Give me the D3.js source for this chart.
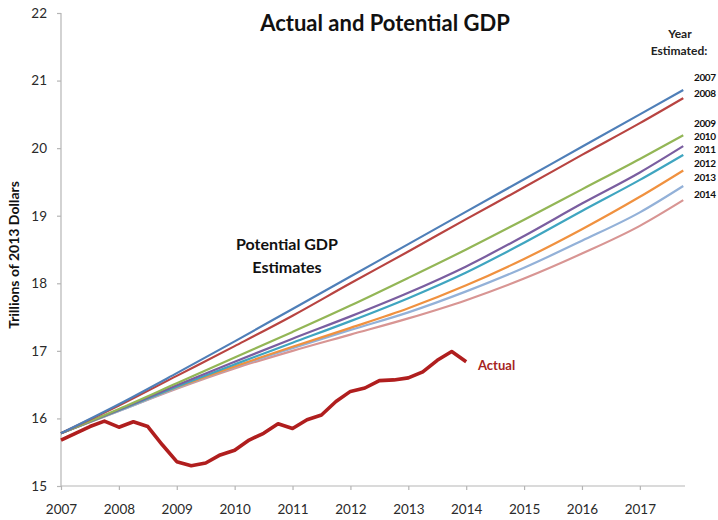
<!DOCTYPE html>
<html>
<head>
<meta charset="utf-8">
<script src="https://cdn.jsdelivr.net/npm/d3@7"></script>
<style>
  html, body { margin: 0; padding: 0; background: #fff; }
  svg { display: block; font-family: Lato, "Open Sans", sans-serif; }
</style>
</head>
<body>
<svg id="chart" width="718" height="520"></svg>
<script>
// ---------- data ----------
const estimateYears = ["2007", "2008", "2009", "2010", "2011", "2012", "2013", "2014"];
const potentialX = [2007, 2008, 2009, 2010, 2011, 2012, 2013, 2014, 2015, 2016, 2017, 2017.75];
const potential2007 = [15.78, 16.21, 16.67, 17.14, 17.62, 18.10, 18.58, 19.06, 19.54, 20.02, 20.50, 20.86];
const potential2008 = [15.78, 16.19, 16.63, 17.07, 17.52, 18.00, 18.47, 18.95, 19.42, 19.90, 20.37, 20.74];
const potential2009 = [15.78, 16.14, 16.52, 16.90, 17.28, 17.67, 18.08, 18.50, 18.94, 19.39, 19.84, 20.19];
const potential2010 = [15.78, 16.13, 16.49, 16.84, 17.18, 17.51, 17.86, 18.25, 18.70, 19.18, 19.64, 20.03];
const potential2011 = [15.78, 16.12, 16.47, 16.80, 17.12, 17.44, 17.78, 18.16, 18.60, 19.07, 19.53, 19.90];
const potential2012 = [15.78, 16.12, 16.46, 16.77, 17.06, 17.34, 17.63, 17.97, 18.36, 18.80, 19.28, 19.67];
const potential2013 = [15.78, 16.11, 16.45, 16.76, 17.04, 17.31, 17.57, 17.88, 18.23, 18.63, 19.05, 19.44];
const potential2014 = [15.78, 16.11, 16.44, 16.74, 17.00, 17.24, 17.48, 17.75, 18.07, 18.44, 18.85, 19.23];
const potentialSeries = [potential2007, potential2008, potential2009, potential2010,
                         potential2011, potential2012, potential2013, potential2014];

const actualX = [2007.00, 2007.25, 2007.50, 2007.75, 2008.00, 2008.25, 2008.50, 2008.75,
                 2009.00, 2009.25, 2009.50, 2009.75, 2010.00, 2010.25, 2010.50, 2010.75,
                 2011.00, 2011.25, 2011.50, 2011.75, 2012.00, 2012.25, 2012.50, 2012.75,
                 2013.00, 2013.25, 2013.50, 2013.75, 2014.00];
const actualValues = [15.68, 15.78, 15.88, 15.96, 15.87, 15.95, 15.88, 15.61,
                      15.36, 15.30, 15.34, 15.46, 15.53, 15.68, 15.78, 15.92,
                      15.85, 15.98, 16.05, 16.25, 16.40, 16.45, 16.56, 16.57,
                      16.60, 16.69, 16.86, 16.99, 16.84];

const xTicks = [2007, 2008, 2009, 2010, 2011, 2012, 2013, 2014, 2015, 2016, 2017];
const yTicks = [15, 16, 17, 18, 19, 20, 21, 22];

// ---------- layout / style ----------
const colors = ["#4f7fb8", "#b84441", "#93b656", "#7a5ea0", "#3fa5c0", "#f0913f", "#93b1d8", "#d89593"];
const legendLabelY = [77, 93, 123, 136, 149, 163, 177, 194];

const svg = d3.select("#chart");
const x = d3.scaleLinear().domain([2007, 2017.78]).range([61, 685]);
const y = d3.scaleLinear().domain([15, 22]).range([486, 13]);

// axes
const xAxis = svg.append("g").attr("transform", "translate(0,486)")
  .call(d3.axisBottom(x).tickValues(xTicks).tickFormat(d3.format("d")).tickSize(4).tickPadding(14));
const yAxis = svg.append("g").attr("transform", "translate(61,0)")
  .call(d3.axisLeft(y).tickValues(yTicks).tickFormat(d3.format("d")).tickSize(4).tickPadding(10));
[xAxis, yAxis].forEach(g => {
  g.select(".domain").attr("stroke", "#b5b5b5").attr("stroke-width", 1.2);
  g.selectAll(".tick line").attr("stroke", "#b5b5b5").attr("stroke-width", 1.2);
  g.selectAll(".tick text").attr("fill", "#2a2a2a").style("font-size", "13.5px")
    .style("font-family", "Lato, 'Open Sans', sans-serif");
});
xAxis.select(".domain").attr("d", "M61,0H685");
yAxis.select(".domain").attr("d", "M0,13V486");

// potential lines
const line = d3.line().x(d => x(d[0])).y(d => y(d[1])).curve(d3.curveMonotoneX);
potentialSeries.slice().reverse().forEach((vals, ri) => {
  const i = potentialSeries.length - 1 - ri;
  svg.append("path")
    .datum(potentialX.map((px, k) => [px, vals[k]]))
    .attr("fill", "none")
    .attr("stroke", colors[i])
    .attr("stroke-width", 2.2)
    .attr("d", line);
});

// actual line
svg.append("path")
  .datum(actualX.map((ax, k) => [ax, actualValues[k]]))
  .attr("fill", "none")
  .attr("stroke", "#b01e1e")
  .attr("stroke-width", 3.6)
  .attr("stroke-linejoin", "round")
  .attr("d", d3.line().x(d => x(d[0])).y(d => y(d[1])));

// title
svg.append("text").attr("x", 385).attr("y", 31).attr("text-anchor", "middle")
  .style("font-size", "22px").style("font-weight", "bold").attr("fill", "#111")
  .text("Actual and Potential GDP");

// y axis title
svg.append("text").attr("transform", "translate(19,255) rotate(-90)")
  .attr("text-anchor", "middle").style("font-size", "14px").style("font-weight", "bold")
  .attr("fill", "#111").text("Trillions of 2013 Dollars");

// annotations
svg.append("text").attr("x", 287).attr("y", 250).attr("text-anchor", "middle")
  .style("font-size", "16px").style("font-weight", "bold").attr("fill", "#111").text("Potential GDP");
svg.append("text").attr("x", 287).attr("y", 273).attr("text-anchor", "middle")
  .style("font-size", "16px").style("font-weight", "bold").attr("fill", "#111").text("Estimates");
svg.append("text").attr("x", 478).attr("y", 370)
  .style("font-size", "13px").style("font-weight", "bold").attr("fill", "#a52422").text("Actual");

// legend
svg.append("text").attr("x", 680).attr("y", 38).attr("text-anchor", "middle")
  .style("font-size", "12px").style("font-weight", "bold").attr("fill", "#222").text("Year");
svg.append("text").attr("x", 679).attr("y", 55).attr("text-anchor", "middle")
  .style("font-size", "12px").style("font-weight", "bold").attr("fill", "#222").text("Estimated:");
svg.selectAll(".legend").data(estimateYears).enter().append("text")
  .attr("class", "legend")
  .attr("x", 694).attr("y", (d, i) => legendLabelY[i]).attr("dy", "0.35em")
  .style("font-size", "10px").style("font-weight", "bold")
  .style("letter-spacing", "-0.4px")
  .style("font-family", "Lato, sans-serif")
  .attr("fill", "#111").text(d => d);
</script>
</body>
</html>
